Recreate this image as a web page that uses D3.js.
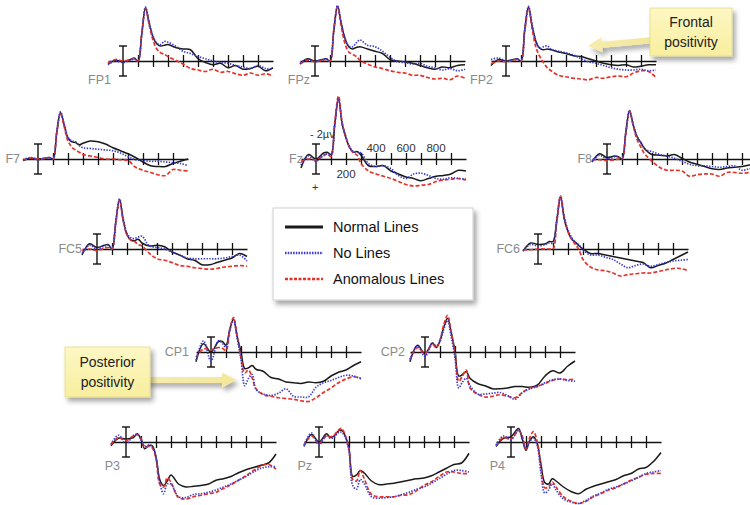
<!DOCTYPE html>
<html><head><meta charset="utf-8">
<script src="https://cdn.jsdelivr.net/npm/d3@7"></script>
<style>body{margin:0;background:#fff}svg{display:block;font-family:"Liberation Sans",Arial,Helvetica,sans-serif}</style>
</head><body>
<svg id="c" width="750" height="505"></svg>
<script>
// ---- data (µV, negative plotted up) ----
const times = [-100,-50,0,50,75,100,125,150,175,200,225,250,275,300,350,400,450,500,550,600,650,700,750,800,850,900,950,1000];
const tickTimes = [100,200,300,400,500,600,700,800,900];
const fzTickLabels = [200,400,600,800];
const seriesNames = ["Normal Lines","No Lines","Anomalous Lines"];

const fp1Normal = [0.4,-0.1,0.1,-0.2,-0.4,0.0,-3.6,-7.1,-5.0,-3.2,-2.3,-2.0,-2.1,-2.2,-1.8,-1.6,-1.5,-0.3,0.2,0.5,0.3,0.9,0.6,1.1,1.0,0.7,1.3,0.9];
const fp1None   = [0.5,0.0,0.2,-0.1,-0.3,0.0,-3.5,-7.2,-5.1,-3.3,-2.4,-2.2,-2.6,-2.5,-2.0,-1.3,-1.0,-0.6,-0.3,0.0,0.2,0.3,0.6,0.8,1.0,0.6,1.0,1.1];
const fp1Anom   = [0.3,-0.2,0.0,-0.2,-0.3,0.0,-3.6,-7.0,-4.8,-2.8,-1.6,-1.1,-0.9,-0.6,-0.1,0.4,1.0,1.2,1.4,1.1,1.5,1.4,1.7,1.9,1.6,1.9,1.7,2.0];

const fpzNormal = [0.4,-0.3,0.0,-0.2,-0.3,0.0,-4.0,-7.3,-5.0,-3.0,-1.9,-1.6,-1.8,-1.9,-1.6,-1.3,-1.0,-0.2,0.0,0.1,0.3,0.6,0.9,1.1,0.8,0.9,0.6,0.5];
const fpzNone   = [0.3,-0.2,0.1,-0.2,-0.3,0.0,-4.0,-7.4,-5.1,-3.0,-2.0,-1.9,-2.4,-2.8,-2.1,-1.9,-1.3,-0.5,0.1,0.2,0.4,0.3,0.7,0.9,1.2,1.0,1.3,1.1];
const fpzAnom   = [0.4,-0.1,0.1,-0.1,-0.2,0.0,-4.1,-7.2,-4.6,-2.3,-1.2,-0.9,-0.6,-0.1,0.4,0.8,1.0,1.3,1.5,1.6,1.9,1.9,2.2,2.4,2.3,2.5,2.0,2.3];

const fp2Normal = [0.6,-0.2,0.0,-0.2,-0.3,0.0,-4.2,-7.2,-4.6,-2.6,-1.7,-1.5,-1.6,-1.5,-1.2,-1.0,-0.7,-0.6,-0.3,0.0,0.3,0.5,0.6,0.5,0.8,0.7,0.5,0.5];
const fp2None   = [-0.2,-0.4,0.0,-0.2,-0.3,0.0,-4.2,-7.3,-4.8,-2.6,-1.7,-1.9,-2.0,-1.6,-1.3,-1.1,-0.8,-0.3,0.1,0.3,0.6,0.9,1.1,1.2,1.2,1.1,1.3,1.2];
const fp2Anom   = [0.4,0.0,0.1,-0.1,-0.2,0.0,-4.0,-7.0,-4.2,-1.8,-0.6,0.2,0.9,1.3,1.9,2.1,2.3,2.4,2.5,2.2,2.3,2.1,2.0,2.1,1.6,1.3,1.4,2.2];

const f7Normal = [0.2,-0.1,0.0,-0.1,-0.2,0.0,-3.5,-6.2,-4.5,-2.8,-2.3,-2.2,-1.9,-2.1,-2.4,-2.3,-2.0,-1.5,-1.1,-0.7,-0.2,0.4,0.9,1.0,1.0,0.6,0.3,0.0];
const f7None   = [0.1,-0.2,0.1,-0.1,-0.2,0.0,-3.6,-6.3,-4.6,-2.9,-2.4,-2.3,-1.8,-1.5,-1.4,-1.3,-1.2,-1.1,-0.8,-0.3,0.1,0.2,0.3,0.3,0.4,0.5,0.6,0.9];
const f7Anom   = [0.1,-0.1,0.0,-0.1,-0.2,0.0,-3.5,-6.1,-4.3,-2.4,-1.6,-1.2,-0.9,-0.6,-0.4,-0.2,0.0,0.0,0.1,0.2,1.1,1.5,1.8,2.1,2.2,1.4,1.5,1.6];

const fzNormal = [1.2,-0.6,0.0,-0.8,-0.9,-0.6,-4.6,-8.0,-4.6,-2.8,-1.5,-0.9,-1.0,-0.5,0.9,1.0,0.9,1.6,2.0,2.4,2.6,2.9,2.6,2.3,2.2,2.0,1.5,1.6];
const fzNone   = [0.8,-0.4,0.3,-0.5,-0.7,-0.5,-4.5,-8.1,-4.7,-2.9,-1.6,-1.0,-0.9,-0.8,0.6,1.0,0.9,1.3,2.2,2.6,2.0,1.9,2.2,2.6,2.7,2.5,2.6,2.7];
const fzAnom   = [0.3,0.0,0.1,-0.4,-0.7,-0.3,-4.8,-8.4,-4.8,-2.9,-1.5,-0.8,-0.5,0.6,1.6,2.0,2.3,2.6,3.0,3.4,3.6,3.5,3.4,3.0,2.8,2.7,2.6,2.8];

const f8Normal = [0.4,-0.7,-0.2,-0.4,-0.3,0.0,-3.5,-6.4,-4.5,-3.0,-2.2,-1.4,-0.9,-0.6,-0.5,-0.4,-0.6,-0.1,0.4,0.7,1.0,1.3,1.4,1.2,1.1,1.0,0.8,0.7];
const f8None   = [0.3,-0.5,0.0,-0.3,-0.3,0.0,-3.5,-6.5,-4.6,-3.0,-2.2,-1.4,-1.1,-1.0,-0.6,-0.4,-0.1,0.3,0.7,0.9,0.9,1.0,1.1,1.0,0.9,1.5,1.3,1.2];
const f8Anom   = [0.1,0.1,0.2,0.1,0.0,0.0,-3.3,-6.4,-4.4,-2.6,-1.6,-0.7,-0.2,0.3,1.1,1.5,1.5,1.6,2.3,2.1,2.0,2.0,2.3,1.8,1.8,1.9,1.8,1.8];

const fc5Normal = [0.8,-0.7,-0.2,-0.5,-0.6,0.0,-3.6,-6.6,-3.8,-1.9,-1.2,-1.1,-1.3,-0.8,-0.4,-0.5,-0.3,0.4,0.8,1.3,1.5,2.1,2.1,1.8,1.5,1.2,0.6,1.0];
const fc5None   = [0.6,-0.5,0.0,-0.4,-0.5,0.0,-3.5,-6.7,-4.0,-2.1,-1.5,-1.4,-1.6,-1.7,-0.4,-0.2,0.0,0.4,0.8,1.2,1.3,1.3,1.3,1.3,1.2,1.0,0.8,1.6];
const fc5Anom   = [0.3,0.0,0.2,-0.1,-0.2,0.0,-3.4,-6.5,-3.8,-1.9,-1.2,-1.0,-0.6,-0.4,0.6,1.3,1.5,1.8,2.2,2.3,2.5,2.6,2.7,2.6,2.4,2.3,2.2,2.3];

const fc6Normal = [0.3,-0.8,-0.6,-0.7,-1.0,-1.0,-3.8,-6.9,-4.0,-2.3,-1.3,-0.9,-0.4,0.0,0.6,0.6,0.8,1.0,1.2,1.4,1.6,1.8,2.5,2.2,1.9,1.4,0.9,0.4];
const fc6None   = [0.2,-0.6,-0.4,-0.6,-0.8,-0.8,-3.7,-7.0,-4.2,-2.5,-1.5,-0.9,-0.5,0.1,0.8,0.8,1.1,1.4,2.0,2.5,2.2,2.0,2.3,2.1,1.8,1.6,1.5,1.4];
const fc6Anom   = [0.1,0.1,0.0,0.0,0.0,0.0,-3.6,-7.1,-4.3,-2.4,-1.3,-0.6,0.2,1.4,2.4,2.8,2.9,3.2,3.6,3.4,3.3,3.2,3.2,3.0,2.8,2.6,2.6,2.9];

const cp1Normal = [1.3,-1.1,0.0,-1.4,-1.4,-0.9,-3.0,-4.4,-2.0,0.0,2.2,2.1,1.8,2.3,2.6,3.4,3.6,4.0,4.1,4.2,4.0,4.1,3.9,3.2,2.7,2.4,1.8,1.3];
const cp1None   = [1.1,-1.5,1.2,-1.5,-1.2,-0.6,-2.8,-4.3,-1.8,1.0,4.5,3.5,3.0,5.0,5.6,5.8,5.5,4.9,5.9,6.0,6.0,4.7,4.1,3.8,3.4,3.1,3.2,3.6];
const cp1Anom   = [0.7,-0.4,-0.3,-0.6,-0.5,-0.2,-3.0,-4.6,-2.0,0.8,2.8,2.4,3.5,4.9,5.7,5.9,6.1,6.2,6.3,6.5,6.6,6.1,5.4,4.8,4.1,3.6,3.3,3.5];

const cp2Normal = [1.3,-0.9,0.2,-1.2,-0.6,-1.5,-3.3,-4.5,-2.6,-0.1,3.2,3.0,2.6,3.5,4.2,4.5,4.9,4.9,4.8,4.6,4.6,4.7,4.4,3.2,2.5,2.8,1.9,1.2];
const cp2None   = [1.0,-0.8,0.6,-1.2,-0.8,-1.4,-3.0,-4.2,-2.0,0.8,4.8,4.0,3.5,4.5,5.6,5.6,5.5,5.4,5.8,6.3,5.4,4.9,4.6,4.1,3.7,3.6,3.8,3.9];
const cp2Anom   = [1.0,-0.6,0.2,-1.0,-0.6,-1.6,-3.6,-4.9,-2.6,0.2,3.9,3.2,2.4,4.8,5.6,6.0,5.9,5.7,5.9,6.1,5.4,4.8,4.6,4.2,3.8,3.6,3.7,3.6];

const p3Normal = [0.5,-0.5,-0.4,-0.6,-1.1,-0.4,0.9,0.5,0.5,2.0,5.0,5.8,5.2,4.4,5.6,6.0,5.9,5.8,5.6,5.1,4.9,4.6,4.1,3.7,3.4,3.1,2.8,1.6];
const p3None   = [0.3,-0.9,0.2,-0.9,-1.0,-0.3,0.6,0.4,0.6,2.0,5.4,6.9,5.6,5.6,7.3,7.4,7.0,6.9,6.7,6.4,6.0,5.6,5.1,4.6,4.0,3.5,3.3,3.3];
const p3Anom   = [0.4,-0.6,-0.2,-0.8,-1.0,-0.5,0.7,0.6,0.8,2.2,5.6,6.0,4.8,5.4,7.4,7.6,7.3,7.1,6.9,6.7,6.2,5.7,5.1,4.5,3.8,3.2,3.0,3.6];

const pzNormal = [0.6,-1.0,0.0,-1.1,-0.6,-0.8,-1.4,-1.6,-0.8,0.9,4.6,4.4,3.8,4.1,5.2,5.7,5.6,5.5,5.3,5.1,4.9,4.8,4.5,4.0,3.5,3.0,2.8,1.5];
const pzNone   = [0.4,-1.2,0.4,-0.9,-0.5,-0.6,-1.2,-1.3,-0.6,1.2,5.8,6.3,5.0,5.5,7.3,7.5,7.4,7.3,7.0,6.7,6.3,6.0,5.5,4.9,4.3,3.8,3.8,4.0];
const pzAnom   = [0.5,-0.8,0.2,-0.8,-0.7,-0.9,-1.5,-1.8,-0.9,1.0,5.0,5.2,3.8,4.8,7.0,7.3,7.3,7.3,7.1,7.0,6.5,5.8,5.3,4.6,4.0,4.0,4.2,4.2];

const p4Normal = [0.6,-0.5,-0.7,-1.8,-0.4,1.1,-0.2,-0.7,0.2,3.0,5.4,5.6,4.9,5.2,6.0,6.6,6.9,6.3,5.9,5.6,5.3,5.0,4.5,4.2,3.6,3.4,2.6,1.4];
const p4None   = [0.4,-0.8,-0.3,-1.6,-0.5,1.0,-0.1,-0.5,0.5,4.2,6.8,6.4,5.6,6.4,7.6,8.0,8.2,7.8,7.2,6.8,6.3,6.0,5.6,5.2,4.7,4.2,4.0,3.8];
const p4Anom   = [0.5,-0.6,-0.4,-1.5,-0.8,0.9,-0.6,-1.4,0.0,3.4,6.1,6.0,5.3,6.0,7.3,7.9,8.2,7.9,7.3,6.9,6.4,6.1,5.6,5.1,4.7,4.3,4.2,4.2];

// ---- layout (positions only) ----
const panels = [
  {name:"FP1", x0:123, base:61,  lab:"below", ldx:-12, series:[fp1Normal,fp1None,fp1Anom]},
  {name:"FPz", x0:315, base:61,  lab:"below", ldx:-5,  series:[fpzNormal,fpzNone,fpzAnom]},
  {name:"FP2", x0:506, base:61,  lab:"below", ldx:-13, series:[fp2Normal,fp2None,fp2Anom]},
  {name:"F7",  x0:38,  base:159, lab:"left",  ldx:-18, series:[f7Normal,f7None,f7Anom]},
  {name:"Fz",  x0:316, base:159, lab:"left",  ldx:-13, series:[fzNormal,fzNone,fzAnom]},
  {name:"F8",  x0:607, base:159, lab:"left",  ldx:-15, series:[f8Normal,f8None,f8Anom]},
  {name:"FC5", x0:97,  base:249, lab:"left",  ldx:-15, series:[fc5Normal,fc5None,fc5Anom]},
  {name:"FC6", x0:538, base:249, lab:"left",  ldx:-18, series:[fc6Normal,fc6None,fc6Anom]},
  {name:"CP1", x0:211, base:352, lab:"left",  ldx:-22, series:[cp1Normal,cp1None,cp1Anom]},
  {name:"CP2", x0:425, base:352, lab:"left",  ldx:-20, series:[cp2Normal,cp2None,cp2Anom]},
  {name:"P3",  x0:126, base:442, lab:"below", ldx:-6,  series:[p3Normal,p3None,p3Anom]},
  {name:"Pz",  x0:319, base:442, lab:"below", ldx:-7,  series:[pzNormal,pzNone,pzAnom]},
  {name:"P4",  x0:511, base:442, lab:"below", ldx:-6,  series:[p4Normal,p4None,p4Anom]}
];

const styles = [
  {color:"#1a1a1a", width:1.5, dash:null},
  {color:"#3b3bd0", width:1.7, dash:"1.4,1.4"},
  {color:"#e5322b", width:1.7, dash:"4,2"}
];
const drawOrder = [0,2,1];

const svg = d3.select("#c");
const defs = svg.append("defs");
const sh = defs.append("filter").attr("id","shadow").attr("x","-20%").attr("y","-20%").attr("width","150%").attr("height","160%");
sh.append("feDropShadow").attr("dx",3).attr("dy",4).attr("stdDeviation",2.5).attr("flood-color","#000").attr("flood-opacity",0.35);
const gr = defs.append("linearGradient").attr("id","yel").attr("x1",0).attr("y1",0).attr("x2",0).attr("y2",1);
gr.append("stop").attr("offset","0%").attr("stop-color","#fdf7c4");
gr.append("stop").attr("offset","100%").attr("stop-color","#f8ee9e");
const gr2 = defs.append("linearGradient").attr("id","arr").attr("x1",0).attr("y1",0).attr("x2",1).attr("y2",0);
gr2.append("stop").attr("offset","0%").attr("stop-color","#f7ecab");
gr2.append("stop").attr("offset","100%").attr("stop-color","#f3e79a");

panels.forEach(p => {
  const x = d3.scaleLinear().domain([-100,1000]).range([p.x0-15, p.x0+150]);
  const y = d3.scaleLinear().domain([-2,2]).range([p.base-15, p.base+15]);
  const g = svg.append("g");
  const ax = d3.axisBottom(x).tickValues(tickTimes).tickSizeOuter(0).tickSizeInner(6).tickFormat("");
  const ag = g.append("g").attr("transform",`translate(0,${p.base})`).call(ax);
  ag.select(".domain").attr("stroke","#111").attr("stroke-width",1.5);
  ag.selectAll(".tick line").attr("y1",-6).attr("y2",6).attr("stroke","#111").attr("stroke-width",1.3);
  const bx = x(0);
  g.append("line").attr("x1",bx).attr("x2",bx).attr("y1",y(-2)).attr("y2",y(2)).attr("stroke","#111").attr("stroke-width",1.4);
  [-2,2].forEach(v => g.append("line").attr("x1",bx-4).attr("x2",bx+4).attr("y1",y(v)).attr("y2",y(v)).attr("stroke","#111").attr("stroke-width",1.4));
  const line = d3.line().x((d,i)=>x(times[i])).y(d=>y(d)).curve(d3.curveCatmullRom.alpha(0.5));
  drawOrder.forEach(si => {
    const s = styles[si];
    g.append("path").attr("d",line(p.series[si])).attr("fill","none")
      .attr("stroke",s.color).attr("stroke-width",s.width)
      .attr("stroke-dasharray",s.dash).attr("stroke-linejoin","round");
  });
  const t = g.append("text").text(p.name).attr("fill","#8a8a8a").attr("font-size",12.5)
    .attr("x", p.x0 + p.ldx).attr("text-anchor","end");
  if (p.lab === "left") {
    t.attr("y", p.base).attr("dy","0.35em");
  } else {
    t.attr("y", p.base + (p.base > 400 ? 28 : 23));
  }
  if (p.name === "Fz") {
    g.append("text").text("- 2µv").attr("x",bx-6).attr("y",y(-2)-6).attr("font-size",11).attr("fill","#333");
    g.append("text").text("+").attr("x",bx-4).attr("y",y(2)+17).attr("font-size",11).attr("fill","#333");
    fzTickLabels.forEach(v => {
      g.append("text").text(v).attr("x",x(v)).attr("y", v===200 ? p.base+19 : p.base-7)
        .attr("text-anchor","middle").attr("font-size",11.5).attr("fill","#333");
    });
  }
});

const lg = svg.append("g");
lg.append("rect").attr("x",273).attr("y",208).attr("width",200).attr("height",92)
  .attr("fill","#fff").attr("stroke","#cfcfcf").attr("filter","url(#shadow)");
seriesNames.forEach((n,i) => {
  const s = styles[i], yy = 227 + i*26;
  lg.append("line").attr("x1",285).attr("x2",323).attr("y1",yy).attr("y2",yy)
    .attr("stroke",s.color).attr("stroke-width", i===0?3:2.6).attr("stroke-dasharray", i===1?"1.5,1.2":(i===2?"3,1.5":null));
  lg.append("text").text(n).attr("x",333).attr("y",yy).attr("dy","0.35em").attr("font-size",14.5).attr("fill","#111");
});

function arrowPts(x1,y1,x2,y2,sw,hw,hl){
  const dx=x2-x1, dy=y2-y1, L=Math.hypot(dx,dy), ux=dx/L, uy=dy/L, nx=-uy, ny=ux;
  const bx=x2-ux*hl, by=y2-uy*hl;
  return [[x1+nx*sw/2,y1+ny*sw/2],[bx+nx*sw/2,by+ny*sw/2],[bx+nx*hw/2,by+ny*hw/2],[x2,y2],
          [bx-nx*hw/2,by-ny*hw/2],[bx-nx*sw/2,by-ny*sw/2],[x1-nx*sw/2,y1-ny*sw/2]].map(p=>p.join(",")).join(" ");
}
function callout(bx,by,bw,bh,lines,ax1,ay1,ax2,ay2){
  const g = svg.append("g");
  g.append("polygon").attr("points",arrowPts(ax1,ay1,ax2,ay2,6,15,14)).attr("fill","url(#arr)").attr("filter","url(#shadow)");
  g.append("rect").attr("x",bx).attr("y",by).attr("width",bw).attr("height",bh)
    .attr("fill","url(#yel)").attr("stroke","#e6d98a").attr("stroke-width",0.8).attr("filter","url(#shadow)");
  lines.forEach((l,i)=> g.append("text").text(l).attr("x",bx+bw/2).attr("y",by+bh/2+(i-0.5)*20).attr("dy","0.35em")
    .attr("text-anchor","middle").attr("font-size",14).attr("fill","#222"));
}
callout(65,347,85,50,["Posterior","positivity"],146,380,236,380);
callout(650,8,82,48,["Frontal","positivity"],654,40,588,46);
</script>
</body></html>
